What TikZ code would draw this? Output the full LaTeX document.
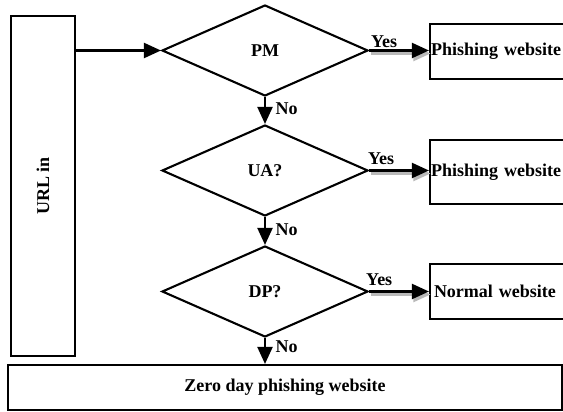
\documentclass[tikz,border=0pt]{standalone}
\usepackage{fontspec}
\setmainfont{Liberation Serif}
\usetikzlibrary{shapes.geometric,arrows.meta}
\begin{document}
\begin{tikzpicture}[x=1pt,y=-1pt,line width=2.1pt,
  font=\fontsize{18}{21}\selectfont\bfseries,
  box/.style={draw,rectangle,inner sep=0pt},
  dec/.style={draw,diamond,inner sep=0pt,minimum width=206pt,minimum height=91pt},
  arr/.style={-{Triangle[length=17pt,width=15pt]}},
  shade/.style={draw=gray!55,-{Triangle[length=17pt,width=15pt,fill=gray!55]},transform canvas={xshift=1.5pt,yshift=-3pt}},
  lbl/.style={inner sep=1.5pt}]
\useasboundingbox[fill=white] (0,0) rectangle (563,412);
% nodes
\node[box,minimum width=64pt,minimum height=340pt] (url) at (43,186) {\rotatebox{90}{URL in}};
\node[dec] (pm) at (265,50.5) {PM};
\node[dec] (ua) at (265,170.5) {UA?};
\node[dec] (dp) at (265,291.5) {DP?};
\node[box,minimum height=55pt,text width=134pt,inner xsep=1pt,align=left] (p1) at (498,51.5) {Phishing website};
\node[box,minimum height=64pt,text width=134pt,inner xsep=1pt,align=left] (p2) at (498,172) {Phishing website};
\node[box,minimum height=55pt,text width=128pt,inner xsep=4pt,align=left] (nw) at (498,291.5) {Normal website};
\node[box,minimum width=554pt,minimum height=45pt] (zd) at (285,387.5) {Zero day phishing website};
% connectors
\draw[arr] (pm.west -| url.east) -- (pm.west);
\draw[arr] (pm.south) -- (ua.north) node[lbl,pos=0.45,anchor=west,xshift=8pt] {No};
\draw[arr] (ua.south) -- (dp.north) node[lbl,pos=0.45,anchor=west,xshift=8pt] {No};
\draw[arr] (dp.south) -- (zd.north -| dp.south) node[lbl,pos=0.35,anchor=west,xshift=8pt] {No};
\draw[shade] (pm.east) -- (p1.west |- pm.east);
\draw[shade] (ua.east) -- (p2.west |- ua.east);
\draw[shade] (dp.east) -- (nw.west |- dp.east);
\draw[arr] (pm.east) -- (p1.west |- pm.east) node[lbl,pos=0.25,anchor=south] {Yes};
\draw[arr] (ua.east) -- (p2.west |- ua.east) node[lbl,pos=0.2,anchor=south,yshift=3pt] {Yes};
\draw[arr] (dp.east) -- (nw.west |- dp.east) node[lbl,pos=0.17,anchor=south,yshift=3pt] {Yes};
\end{tikzpicture}
\end{document}
